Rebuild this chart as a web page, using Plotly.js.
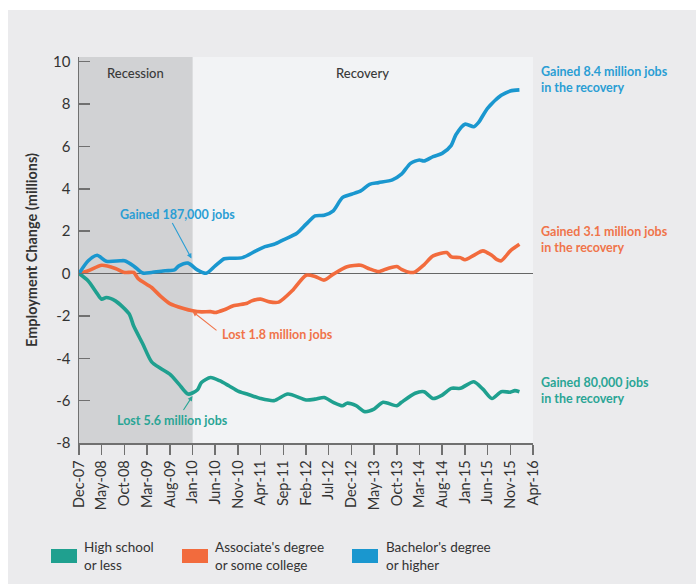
<!DOCTYPE html>
<html>
<head>
<meta charset="utf-8">
<script src="https://cdn.plot.ly/plotly-3.0.1.min.js"></script>
<style>
  html, body { margin: 0; padding: 0; background: #ffffff; }
  #chart { position: absolute; left: 8px; top: 10px; width: 688px; height: 574px; }
</style>
</head>
<body>
<div id="chart"></div>
<script>
// ---- Data (months after Dec-2007, employment change in millions) ----
const seriesNames = ["High school<br>or less", "Associate's degree<br>or some college", "Bachelor's degree<br>or higher"];

const hsMonths = [0,2,4,5,6,8,11,12,14,16,18,20,22,24,26,27,29,31,33,35,37,40,43,46,50,52,54,56,58,59,61,63,65,67,70,71,74,76,78,80,82,84,87,89,91,93,95,96,97];
const hsValues = [0,-0.35,-0.95,-1.21,-1.13,-1.29,-1.9,-2.47,-3.33,-4.17,-4.48,-4.75,-5.22,-5.69,-5.5,-5.14,-4.91,-5.06,-5.3,-5.55,-5.69,-5.9,-6.0,-5.69,-5.97,-5.93,-5.85,-6.08,-6.24,-6.12,-6.24,-6.52,-6.4,-6.08,-6.24,-6.08,-5.65,-5.58,-5.9,-5.74,-5.42,-5.42,-5.11,-5.46,-5.9,-5.58,-5.6,-5.53,-5.58];

const asMonths = [0,2,5,8,10,12,13,16,18,20,23,25,27,29,30,32,34,37,38,40,42,44,47,50,52,54,56,59,62,64,66,68,70,71,73,74,76,78,81,82,84,85,87,89,91,92,93,95,97];
const asValues = [0,0.13,0.39,0.24,0.05,0.05,-0.24,-0.66,-1.08,-1.42,-1.65,-1.76,-1.81,-1.8,-1.84,-1.71,-1.52,-1.4,-1.29,-1.21,-1.34,-1.35,-0.8,-0.08,-0.14,-0.31,-0.03,0.32,0.39,0.22,0.09,0.24,0.33,0.2,0.05,0.08,0.41,0.83,0.99,0.79,0.75,0.65,0.86,1.07,0.85,0.67,0.6,1.07,1.38];

const baMonths = [0,2,4,6,9,10,12,14,16,19,21,22,24,26,28,30,32,34,36,39,41,43,45,48,50,52,54,56,58,60,62,64,66,69,71,73,75,76,78,80,82,83,85,87,88,90,93,95,97];
const baValues = [0,0.6,0.86,0.58,0.6,0.6,0.36,0.02,0.05,0.13,0.17,0.36,0.49,0.17,0.01,0.36,0.7,0.72,0.75,1.07,1.27,1.38,1.59,1.9,2.33,2.72,2.75,2.96,3.58,3.74,3.9,4.21,4.29,4.42,4.69,5.2,5.36,5.31,5.52,5.67,6.05,6.55,7.05,6.93,7.12,7.8,8.41,8.62,8.67];

const yTickVals = [-8,-6,-4,-2,0,2,4,6,8,10];
const yTickText = ["-8","-6","-4","-2","0","2","4","6","8","10"];

const colors = { hs: "#1fa08f", as: "#f26b3d", ba: "#1a97cf" };
const textColors = { hs: "#2aa595", as: "#f0744a", ba: "#2a9ed4" };

function monthDate(m) {
  const idx = 11 + m;
  const y = 2007 + Math.floor(idx / 12);
  const mo = (idx % 12) + 1;
  return y + "-" + String(mo).padStart(2, "0") + "-01";
}

// plot area in page pixels: x 79..533, y 57..443
const PL = 79, PR = 533, PT = 57, PB = 443;
function px(x) { return (x - PL) / (PR - PL); }
function py(y) { return (PB - y) / (PB - PT); }

const FONT = "Lato, 'Open Sans', sans-serif";

function line(months, vals, color) {
  return {
    type: "scatter", mode: "lines",
    x: months.map(monthDate), y: vals,
    line: { color: color, width: 3.6, shape: "spline", smoothing: 0.7 },
    showlegend: false, hoverinfo: "skip"
  };
}

const traces = [
  line(asMonths, asValues, colors.as),
  line(hsMonths, hsValues, colors.hs),
  line(baMonths, baValues, colors.ba)
];

function txt(x, y, text, color, opts) {
  return Object.assign({
    xref: "paper", yref: "paper", x: px(x), y: py(y), text: text,
    showarrow: false, xanchor: "left", yanchor: "middle", align: "left",
    font: { family: FONT, size: 12, color: color, weight: 700 }
  }, opts || {});
}
function arrow(tx, ty, fx, fy, color) {
  return {
    xref: "paper", yref: "paper", x: px(tx), y: py(ty),
    ax: fx - tx, ay: fy - ty, text: "", showarrow: true,
    arrowhead: 2, arrowsize: 0.9, arrowwidth: 1.1, arrowcolor: color, standoff: 0, startstandoff: 0
  };
}

const endFont = c => ({ family: FONT, size: 12.5, color: c, weight: 700 });

const annotations = [
  txt(135, 73, "Recession", "#3a3a3a", { xanchor: "center", font: { family: FONT, size: 13, color: "#3a3a3a", weight: 500 } }),
  txt(362, 73, "Recovery", "#3a3a3a", { xanchor: "center", font: { family: FONT, size: 13, color: "#3a3a3a", weight: 500 } }),
  txt(539, 79.5, "Gained 8.4 million jobs<br>in the recovery", textColors.ba, { font: endFont(textColors.ba) }),
  txt(539, 239, "Gained 3.1 million jobs<br>in the recovery", textColors.as, { font: endFont(textColors.as) }),
  txt(539, 390, "Gained 80,000 jobs<br>in the recovery", textColors.hs, { font: endFont(textColors.hs) }),
  txt(177, 214, "Gained 187,000 jobs", textColors.ba, { xanchor: "center", font: endFont(textColors.ba) }),
  txt(277, 334, "Lost 1.8 million jobs", textColors.as, { xanchor: "center", font: endFont(textColors.as) }),
  txt(172, 420, "Lost 5.6 million jobs", textColors.hs, { xanchor: "center", font: endFont(textColors.hs) }),
  arrow(191.5, 258.5, 171.5, 221.5, textColors.ba),
  arrow(192.5, 311.5, 218, 331.5, textColors.as),
  arrow(192.5, 396, 182.5, 411.5, textColors.hs)
];

// manual legend (rectangular swatches, two-line labels)
const legendItems = [
  { name: seriesNames[0], color: colors.hs, sx: 51, tx: 82 },
  { name: seriesNames[1], color: colors.as, sx: 182, tx: 213 },
  { name: seriesNames[2], color: colors.ba, sx: 352, tx: 384 }
];
const shapes = [
  { type: "rect", xref: "x", yref: "paper", x0: monthDate(0), x1: monthDate(25), y0: 0, y1: 1,
    fillcolor: "#d1d2d4", line: { width: 0 }, layer: "below" }
];
legendItems.forEach(it => {
  shapes.push({ type: "rect", xref: "paper", yref: "paper",
    x0: px(it.sx), x1: px(it.sx + 26), y0: py(549), y1: py(563),
    fillcolor: it.color, line: { width: 0 } });
  annotations.push(txt(it.tx, 555.5, it.name, "#333333", { font: { family: FONT, size: 13.5, color: "#333333" } }));
});

const layout = {
  width: 688, height: 574,
  margin: { l: PL - 8, r: 688 - (PR - 8), t: PT - 10, b: 574 - (PB - 10) },
  paper_bgcolor: "#ebebed",
  plot_bgcolor: "#f2f3f5",
  font: { family: FONT, color: "#333333", size: 14 },
  showlegend: false,
  xaxis: {
    type: "date",
    range: [monthDate(0), monthDate(100)],
    tick0: monthDate(0), dtick: "M5", tickformat: "%b-%y",
    tickangle: -90,
    ticks: "outside", ticklen: 10, tickwidth: 1.5, tickcolor: "#707070",
    showline: true, linecolor: "#707070", linewidth: 1.5,
    showgrid: false, zeroline: false,
    tickfont: { family: FONT, size: 14.5, color: "#333333" }
  },
  yaxis: {
    range: [-8, 10.22],
    tickvals: yTickVals, ticktext: yTickText,
    ticks: "inside", ticklen: 11, tickwidth: 1.5, tickcolor: "#707070",
    showline: true, linecolor: "#707070", linewidth: 1.5,
    showgrid: false,
    zeroline: true, zerolinecolor: "#666666", zerolinewidth: 1.2,
    ticklabelstandoff: 4,
    tickfont: { family: FONT, size: 15, color: "#333333" },
    title: { text: "Employment Change (millions)", standoff: 12,
      font: { family: FONT, size: 14.5, color: "#333333", weight: 700 } }
  },
  shapes: shapes,
  annotations: annotations
};

Plotly.newPlot("chart", traces, layout, { staticPlot: true, displayModeBar: false });
</script>
</body>
</html>
